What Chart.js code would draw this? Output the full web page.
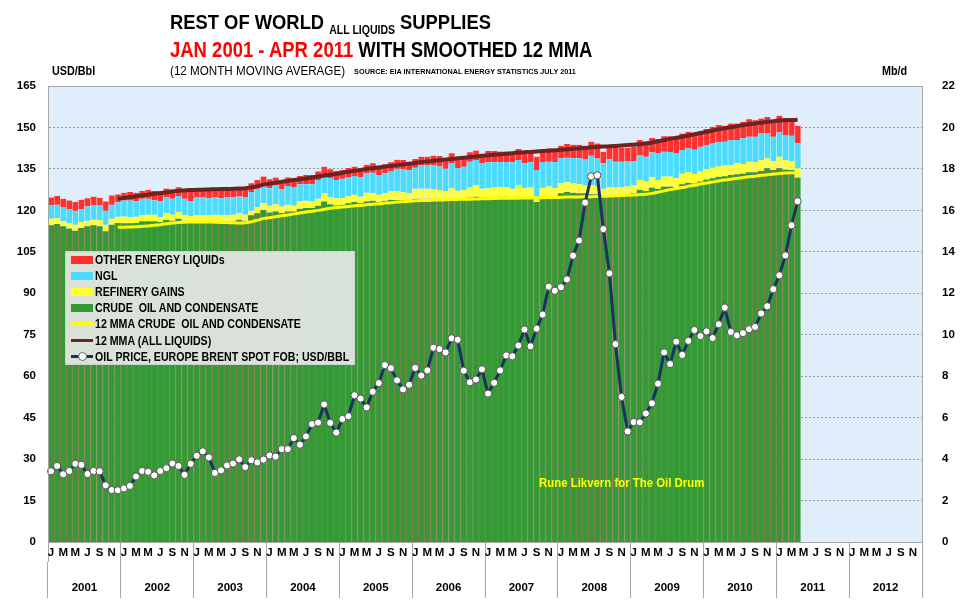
<!DOCTYPE html>
<html>
<head>
<meta charset="utf-8">
<script src="https://cdn.jsdelivr.net/npm/chart.js@4"></script>
<style>
  body { margin: 0; background: #fff; }
  #wrap { position: relative; width: 960px; height: 600px; overflow: hidden;
          font-family: "Liberation Sans", sans-serif; }
  #chart { position: absolute; left: 0; top: 0; }
  .txt { position: absolute; white-space: nowrap; font-weight: bold; color: #000; transform-origin: 0 0; }
  #legend { position: absolute; left: 65px; top: 251px; width: 288px; height: 112px;
            background: rgba(224,229,224,0.96); border: 1px solid #cdd3cd; }
  .li { position: absolute; left: 5px; height: 16px; font-size: 12px; font-weight: bold; line-height: 16px; white-space: nowrap; }
  .sw { position: absolute; left: 0; top: 4px; width: 22px; height: 8px; }
  .ln { position: absolute; left: 0; top: 6px; width: 22px; height: 3px; }
  .dot { position: absolute; left: 7px; top: 3px; width: 7px; height: 7px; border-radius: 50%;
         background: #fff; border: 1px solid #666; }
  .lt { position: absolute; left: 24px; top: 0; white-space: nowrap; transform: scaleX(0.885); transform-origin: 0 0; }
</style>
</head>
<body>
<div id="wrap">
  <canvas id="chart" width="960" height="600"></canvas>
  <div class="txt" style="left:170px;top:10px;font-size:21px;transform:scaleX(0.875);">REST OF WORLD <span style="font-size:12px;position:relative;top:5px;">ALL LIQUIDS</span> SUPPLIES</div>
  <div class="txt" style="left:170px;top:37px;font-size:22px;transform:scaleX(0.84);"><span style="color:#ff0000;">JAN 2001 - APR 2011</span> WITH SMOOTHED 12 MMA</div>
  <div class="txt" style="left:170px;top:64px;font-size:12px;font-weight:normal;transform:scaleX(0.97);">(12 MONTH MOVING AVERAGE) <span style="font-size:7.5px;font-weight:bold;position:relative;top:-1px;margin-left:6px;">SOURCE: EIA INTERNATIONAL ENERGY STATISTICS JULY 2011</span></div>
  <div class="txt" style="left:52px;top:64px;font-size:12px;transform:scaleX(0.9);">USD/Bbl</div>
  <div class="txt" style="left:882px;top:64px;font-size:12px;transform:scaleX(0.9);">Mb/d</div>
  <div class="txt" style="left:539px;top:476px;font-size:12px;color:#ffff00;transform:scaleX(0.95);">Rune Likvern for The Oil Drum</div>
  <div id="legend"></div>
</div>
<script>
// month axis: Jan 2001 .. Dec 2012, bars run Jan 2001 .. Apr 2011
var years = ["2001","2002","2003","2004","2005","2006","2007","2008","2009","2010","2011","2012"];
var monthLetters = ["J","F","M","A","M","J","J","A","S","O","N","D"];

// Mb/d
var crude = [
  15.28,15.34,15.23,15.12,15.02,15.15,15.23,15.28,15.23,14.99,15.31,15.39,
  15.38,15.38,15.39,15.47,15.47,15.47,15.44,15.54,15.50,15.60,15.50,15.44,
  15.44,15.44,15.41,15.41,15.41,15.44,15.47,15.55,15.50,15.76,15.86,16.02,
  15.90,15.95,15.87,15.95,15.95,16.08,16.11,16.11,16.22,16.43,16.30,16.24,
  16.27,16.34,16.40,16.34,16.43,16.46,16.40,16.46,16.51,16.50,16.50,16.46,
  16.56,16.56,16.56,16.56,16.56,16.50,16.56,16.53,16.56,16.62,16.66,16.62,
  16.62,16.62,16.66,16.66,16.62,16.66,16.62,16.62,16.40,16.66,16.67,16.66,
  16.83,16.88,16.85,16.82,16.82,16.78,16.78,16.72,16.75,16.75,16.75,16.78,
  16.83,16.99,16.94,17.10,17.04,17.15,17.15,17.10,17.26,17.33,17.30,17.39,
  17.49,17.55,17.62,17.65,17.71,17.74,17.78,17.84,17.84,17.90,18.03,17.95,
  18.03,17.97,17.95,17.58
];
var refinery = [
  0.32,0.29,0.24,0.26,0.29,0.29,0.27,0.27,0.30,0.32,0.29,0.30,
  0.32,0.29,0.30,0.29,0.32,0.32,0.22,0.32,0.29,0.32,0.26,0.29,
  0.32,0.32,0.35,0.38,0.35,0.32,0.32,0.32,0.29,0.22,0.30,0.34,
  0.32,0.35,0.32,0.32,0.27,0.35,0.35,0.32,0.34,0.40,0.35,0.35,
  0.32,0.34,0.35,0.32,0.42,0.38,0.35,0.37,0.40,0.42,0.38,0.38,
  0.48,0.48,0.48,0.45,0.42,0.42,0.51,0.42,0.42,0.48,0.54,0.42,
  0.45,0.48,0.45,0.45,0.42,0.54,0.45,0.48,0.22,0.42,0.48,0.42,
  0.48,0.48,0.45,0.45,0.38,0.42,0.38,0.32,0.38,0.35,0.38,0.37,
  0.37,0.48,0.45,0.51,0.43,0.48,0.48,0.45,0.51,0.51,0.45,0.48,
  0.51,0.51,0.50,0.51,0.48,0.53,0.45,0.51,0.48,0.53,0.48,0.43,
  0.56,0.46,0.43,0.45
];
var ngl = [
  0.64,0.64,0.69,0.66,0.67,0.62,0.69,0.69,0.70,0.67,0.67,0.70,
  0.77,0.80,0.74,0.80,0.77,0.70,0.77,0.77,0.77,0.77,0.80,0.70,
  0.86,0.86,0.83,0.83,0.83,0.86,0.83,0.80,0.83,0.90,0.88,0.85,
  0.85,0.90,0.82,0.90,0.91,0.83,0.80,0.83,0.90,0.83,0.90,0.88,
  0.93,0.91,0.91,0.93,0.93,0.98,0.96,0.96,0.96,1.09,1.12,1.09,
  1.02,1.12,1.15,1.18,1.14,1.09,1.20,1.09,1.12,1.25,1.23,1.23,
  1.25,1.22,1.22,1.22,1.28,1.23,1.20,1.22,1.33,1.25,1.20,1.25,
  1.20,1.18,1.22,1.25,1.28,1.44,1.34,1.23,1.34,1.25,1.22,1.23,
  1.18,1.20,1.20,1.18,1.28,1.20,1.17,1.22,1.14,1.15,1.17,1.20,
  1.15,1.17,1.17,1.15,1.20,1.12,1.25,1.20,1.23,1.28,1.20,1.17,
  1.17,1.20,1.22,1.20
];
var otherLiquids = [
  0.38,0.42,0.40,0.43,0.42,0.45,0.40,0.42,0.38,0.45,0.45,0.38,
  0.38,0.42,0.42,0.38,0.42,0.45,0.38,0.42,0.45,0.42,0.42,0.45,
  0.38,0.42,0.42,0.42,0.42,0.38,0.42,0.43,0.45,0.43,0.43,0.42,
  0.43,0.38,0.43,0.42,0.42,0.40,0.45,0.45,0.42,0.45,0.43,0.43,
  0.43,0.45,0.45,0.45,0.42,0.45,0.45,0.43,0.45,0.43,0.43,0.42,
  0.42,0.43,0.40,0.45,0.50,0.38,0.48,0.43,0.42,0.45,0.46,0.46,
  0.54,0.54,0.51,0.51,0.48,0.53,0.53,0.43,0.64,0.48,0.64,0.54,
  0.61,0.66,0.64,0.64,0.64,0.67,0.72,0.56,0.59,0.67,0.67,0.64,
  0.69,0.72,0.75,0.70,0.69,0.75,0.78,0.74,0.80,0.80,0.80,0.75,
  0.77,0.80,0.83,0.77,0.80,0.80,0.80,0.85,0.80,0.72,0.80,0.80,
  0.80,0.83,0.86,0.85
];
// 12 month moving averages, Dec 2001 .. Apr 2011
var mmaCrude = [
  15.18,
  15.19,15.20,15.21,15.23,15.25,15.28,15.31,15.35,15.39,15.42,15.43,15.44,
  15.44,15.44,15.44,15.43,15.42,15.41,15.40,15.39,15.40,15.45,15.52,15.60,
  15.65,15.69,15.74,15.78,15.83,15.87,15.92,15.96,16.00,16.05,16.10,16.13,
  16.16,16.19,16.22,16.24,16.27,16.30,16.32,16.35,16.37,16.40,16.42,16.44,
  16.46,16.48,16.48,16.49,16.50,16.51,16.52,16.53,16.54,16.54,16.55,16.56,
  16.56,16.57,16.58,16.58,16.59,16.59,16.60,16.60,16.61,16.61,16.62,16.62,
  16.63,16.64,16.64,16.65,16.66,16.66,16.67,16.68,16.69,16.70,16.72,16.73,
  16.74,16.76,16.78,16.82,16.88,16.94,17.00,17.05,17.10,17.16,17.21,17.27,
  17.32,17.37,17.42,17.46,17.50,17.54,17.58,17.62,17.65,17.69,17.72,17.75,
  17.78,17.80,17.81,17.82
];
var mmaAll = [
  16.56,
  16.60,16.64,16.68,16.72,16.76,16.80,16.84,16.87,16.91,16.94,16.96,16.98,
  16.99,17.00,17.01,17.02,17.03,17.03,17.04,17.05,17.07,17.11,17.16,17.24,
  17.29,17.33,17.38,17.42,17.46,17.50,17.54,17.59,17.63,17.68,17.72,17.76,
  17.81,17.86,17.91,17.95,18.00,18.03,18.07,18.11,18.14,18.18,18.21,18.25,
  18.28,18.33,18.36,18.39,18.42,18.45,18.48,18.51,18.54,18.57,18.60,18.63,
  18.66,18.68,18.71,18.73,18.76,18.78,18.80,18.82,18.84,18.86,18.88,18.90,
  18.92,18.95,18.97,18.99,19.01,19.04,19.06,19.08,19.09,19.11,19.13,19.15,
  19.17,19.19,19.22,19.27,19.33,19.39,19.45,19.50,19.55,19.61,19.67,19.73,
  19.79,19.85,19.91,19.96,20.01,20.06,20.11,20.15,20.19,20.23,20.27,20.30,
  20.33,20.35,20.36,20.37
];
// USD/Bbl, Europe Brent spot FOB
var brent = [
  25.6,27.5,24.5,25.7,28.3,27.9,24.6,25.7,25.6,20.5,18.8,18.7,
  19.4,20.3,23.7,25.7,25.4,24.1,25.7,26.7,28.4,27.5,24.3,28.3,
  31.2,32.8,30.6,25.0,25.9,27.7,28.4,29.9,27.1,29.6,28.8,29.8,
  31.3,30.9,33.6,33.6,37.6,35.2,38.2,42.7,43.2,49.8,43.1,39.6,
  44.5,45.5,53.1,51.9,48.7,54.4,57.5,64.0,62.9,58.5,55.2,56.9,
  63.0,60.2,62.1,70.3,69.8,68.6,73.7,73.2,62.0,57.8,58.8,62.5,
  53.7,57.6,62.1,67.5,67.2,71.1,76.9,70.8,77.2,82.3,92.4,90.9,
  92.2,95.0,103.6,109.1,122.8,132.3,132.7,113.2,97.2,71.6,52.5,40.0,
  43.4,43.3,46.5,50.2,57.3,68.6,64.4,72.5,67.7,72.8,76.7,74.5,
  76.2,73.8,78.8,84.8,76.0,74.8,75.6,77.0,77.8,82.7,85.3,91.5,
  96.5,103.7,114.6,123.3
];

var monthLabels = [];
years.forEach(function (y) {
  monthLetters.forEach(function (m, i) { monthLabels.push(y + "-" + (i + 1)); });
});
function fromDec2001(arr) { return Array(11).fill(null).concat(arr); }

var tickFont = { family: "'Liberation Sans', sans-serif", size: 11.5, weight: "bold" };
var axisGray = "#a6a6a6";

// light blue plot area with a frame
var plotArea = {
  id: "plotArea",
  beforeDraw: function (chart) {
    var a = chart.chartArea, c = chart.ctx;
    c.save();
    c.fillStyle = "#e0edfb";
    c.fillRect(a.left, a.top, a.right - a.left, a.bottom - a.top);
    c.restore();
  },
  afterDraw: function (chart) {
    var a = chart.chartArea, c = chart.ctx;
    c.save();
    c.strokeStyle = axisGray;
    c.lineWidth = 1;
    c.strokeRect(a.left + 0.5, a.top + 0.5, a.right - a.left, a.bottom - a.top);
    c.restore();
  }
};

var barStyle = { yAxisID: "y1", xAxisID: "x", stack: "supply", order: 3,
  barPercentage: 1, categoryPercentage: 1,
  borderWidth: { left: 1, right: 0, top: 0, bottom: 0 } };

var chart = new Chart(document.getElementById("chart"), {
  data: {
    labels: monthLabels,
    datasets: [
      { type: "line", label: "OIL PRICE, EUROPE BRENT SPOT FOB; USD/BBL", data: brent,
        yAxisID: "y", xAxisID: "x", order: 0, borderColor: "#1c3160", borderWidth: 3,
        pointRadius: 3.6, pointBackgroundColor: "#ffffff", pointBorderColor: "#555555",
        pointBorderWidth: 1, tension: 0 },
      { type: "line", label: "12 MMA (ALL LIQUIDS)", data: fromDec2001(mmaAll),
        yAxisID: "y1", xAxisID: "x", stack: "mmaAll", order: 1, borderColor: "#6b2422",
        borderWidth: 4, pointRadius: 0, tension: 0.3 },
      { type: "line", label: "12 MMA CRUDE  OIL AND CONDENSATE", data: fromDec2001(mmaCrude),
        yAxisID: "y1", xAxisID: "x", stack: "mmaCrude", order: 2, borderColor: "#ffff00",
        borderWidth: 3, pointRadius: 0, tension: 0.3 },
      Object.assign({ type: "bar", label: "CRUDE  OIL AND CONDENSATE", data: crude,
        backgroundColor: "#359a35", borderColor: "#8a7c52" }, barStyle),
      Object.assign({ type: "bar", label: "REFINERY GAINS", data: refinery,
        backgroundColor: "#ffff33", borderColor: "#f4f49a" }, barStyle),
      Object.assign({ type: "bar", label: "NGL", data: ngl,
        backgroundColor: "#4ddaff", borderColor: "#a6ecfb" }, barStyle),
      Object.assign({ type: "bar", label: "OTHER ENERGY LIQUIDs", data: otherLiquids,
        backgroundColor: "#ff3030", borderColor: "#ff8a8a" }, barStyle)
    ]
  },
  options: {
    responsive: false,
    animation: false,
    layout: { padding: { top: 86, left: 0, right: 0, bottom: 0 } },
    plugins: { legend: { display: false }, tooltip: { enabled: false } },
    scales: {
      x: {
        type: "category", stacked: true, offset: true,
        grid: { offset: true, drawOnChartArea: false, tickLength: 20,
          color: function (c) { return (c.index === undefined || c.index % 12 === 0) ? axisGray : "rgba(0,0,0,0)"; } },
        border: { display: true, color: axisGray },
        ticks: { autoSkip: false, maxRotation: 0, padding: -16, font: tickFont, color: "#000",
          callback: function (v, i) { return i % 2 === 0 ? monthLetters[i % 12] : ""; } },
        afterFit: function (s) { s.height = 20; }
      },
      xYear: {
        type: "category", labels: years, position: "bottom", offset: true,
        grid: { offset: true, drawOnChartArea: false, tickLength: 36, color: axisGray },
        border: { display: false },
        ticks: { padding: -17, font: tickFont, color: "#000" },
        afterFit: function (s) { s.height = 38; }
      },
      y: {
        position: "left", min: 0, max: 165,
        ticks: { stepSize: 15, padding: 12, font: tickFont, color: "#000" },
        grid: { color: "#9c9c9c", drawTicks: false },
        border: { display: true, color: axisGray, dash: [2, 2] },
        afterFit: function (s) { s.width = 48; }
      },
      y1: {
        position: "right", min: 0, max: 22, stacked: true,
        ticks: { stepSize: 2, padding: 12, font: tickFont, color: "#000" },
        grid: { display: false },
        border: { display: true, color: axisGray },
        afterFit: function (s) { s.width = 38; }
      }
    }
  },
  plugins: [plotArea]
});

// legend box, same order as the original
var legendOrder = [6, 5, 4, 3, 2, 1, 0];
var legend = document.getElementById("legend");
legendOrder.forEach(function (di, row) {
  var ds = chart.data.datasets[di];
  var item = document.createElement("div");
  item.className = "li";
  item.style.top = (0 + row * 16.1) + "px";
  var mark = "";
  if (ds.type === "bar") {
    mark = '<span class="sw" style="background:' + ds.backgroundColor + '"></span>';
  } else {
    mark = '<span class="ln" style="background:' + ds.borderColor + '"></span>';
    if (ds.pointRadius > 0) mark += '<span class="dot"></span>';
  }
  item.innerHTML = mark + '<span class="lt">' + ds.label.replace(/  /g, "&nbsp; ") + "</span>";
  legend.appendChild(item);
});
</script>
</body>
</html>
